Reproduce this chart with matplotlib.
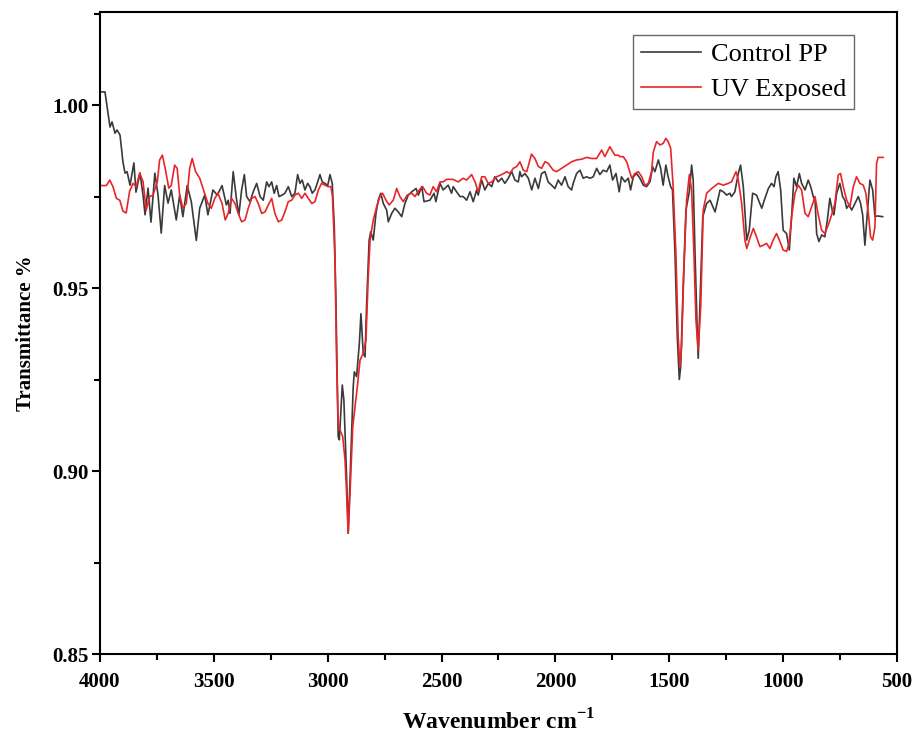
import numpy as np
import matplotlib.pyplot as plt
from matplotlib.ticker import MultipleLocator

# FTIR spectra (wavenumber in cm-1, transmittance)
control_wn = [3998, 3978, 3956, 3947, 3934, 3925, 3912, 3899, 3890, 3881, 3868, 3851, 3842,
              3824, 3811, 3802, 3789, 3776, 3759, 3745, 3731, 3716, 3701, 3687, 3665, 3650,
              3636, 3617, 3599, 3577, 3562, 3540, 3526, 3504, 3485, 3464, 3445, 3437, 3429,
              3415, 3400, 3390, 3378, 3366, 3356, 3341, 3327, 3312, 3297, 3283, 3268, 3258,
              3246, 3235, 3224, 3214, 3200, 3188, 3173, 3158, 3144, 3132, 3122, 3112, 3100,
              3088, 3078, 3068, 3056, 3044, 3034, 3024, 3012, 3000, 2990, 2980, 2971, 2964,
              2954, 2949, 2936, 2929, 2917, 2910, 2899, 2888, 2883, 2873, 2861, 2854, 2844,
              2836, 2829, 2818, 2811, 2800, 2788, 2778, 2767, 2756, 2741, 2734, 2719, 2705,
              2690, 2675, 2661, 2646, 2631, 2612, 2602, 2587, 2577, 2551, 2533, 2525, 2507,
              2493, 2478, 2471, 2456, 2449, 2434, 2419, 2405, 2390, 2375, 2361, 2346, 2339,
              2324, 2310, 2295, 2280, 2266, 2251, 2236, 2222, 2207, 2192, 2178, 2163, 2156,
              2149, 2134, 2119, 2104, 2090, 2075, 2061, 2046, 2032, 2017, 2002, 1988, 1973,
              1958, 1944, 1929, 1922, 1907, 1892, 1878, 1863, 1848, 1834, 1819, 1805, 1790,
              1775, 1761, 1749, 1734, 1720, 1710, 1695, 1680, 1670, 1658, 1644, 1629, 1614,
              1600, 1585, 1573, 1563, 1548, 1538, 1527, 1515, 1505, 1494, 1486, 1475, 1465,
              1456, 1450, 1439, 1427, 1412, 1402, 1395, 1387, 1377, 1373, 1362, 1353, 1336,
              1321, 1299, 1277, 1263, 1248, 1234, 1227, 1212, 1197, 1187, 1175, 1160, 1149,
              1134, 1117, 1102, 1094, 1080, 1065, 1051, 1040, 1032, 1022, 1011, 1000, 985,
              973, 963, 953, 941, 929, 919, 904, 890, 879, 868, 860, 853, 843, 831, 817, 806,
              795, 783, 777, 765, 751, 739, 729, 721, 711, 699, 685, 670, 660, 651, 641, 631,
              619, 607, 597, 587, 563]
control_t = [1.0036, 1.0036, 0.9940, 0.9954, 0.9923, 0.9932, 0.9918, 0.9844, 0.9814, 0.9818,
             0.9781, 0.9842, 0.9762, 0.9814, 0.9754, 0.9700, 0.9773, 0.9680, 0.9814, 0.9754,
             0.9650, 0.9780, 0.9732, 0.9768, 0.9686, 0.9754, 0.9695, 0.9780, 0.9736, 0.9630,
             0.9718, 0.9754, 0.9700, 0.9768, 0.9754, 0.9780, 0.9727, 0.9740, 0.9704, 0.9818,
             0.9740, 0.9700, 0.9768, 0.9810, 0.9750, 0.9736, 0.9763, 0.9786, 0.9750, 0.9740,
             0.9790, 0.9777, 0.9790, 0.9759, 0.9780, 0.9750, 0.9754, 0.9759, 0.9777, 0.9750,
             0.9759, 0.9810, 0.9786, 0.9795, 0.9768, 0.9786, 0.9777, 0.9759, 0.9768, 0.9790,
             0.9810, 0.9790, 0.9786, 0.9780, 0.9810, 0.9786, 0.9667, 0.9467, 0.9094, 0.9085,
             0.9235, 0.9194, 0.8984, 0.8830, 0.9030, 0.9230, 0.9271, 0.9258, 0.9349, 0.9430,
             0.9322, 0.9312, 0.9458, 0.9631, 0.9654, 0.9631, 0.9704, 0.9740, 0.9759, 0.9731,
             0.9713, 0.9681, 0.9704, 0.9718, 0.9708, 0.9695, 0.9731, 0.9754, 0.9763, 0.9772,
             0.9754, 0.9777, 0.9736, 0.9740, 0.9759, 0.9736, 0.9786, 0.9768, 0.9777, 0.9781,
             0.9759, 0.9777, 0.9763, 0.9750, 0.9750, 0.9740, 0.9763, 0.9736, 0.9768, 0.9754,
             0.9795, 0.9768, 0.9786, 0.9777, 0.9804, 0.9790, 0.9800, 0.9786, 0.9800, 0.9818,
             0.9795, 0.9790, 0.9818, 0.9804, 0.9813, 0.9800, 0.9768, 0.9800, 0.9772, 0.9813,
             0.9818, 0.9790, 0.9781, 0.9772, 0.9795, 0.9781, 0.9804, 0.9777, 0.9768, 0.9786,
             0.9813, 0.9822, 0.9800, 0.9804, 0.9800, 0.9804, 0.9827, 0.9810, 0.9822, 0.9818,
             0.9836, 0.9795, 0.9813, 0.9763, 0.9804, 0.9790, 0.9800, 0.9768, 0.9804, 0.9813,
             0.9800, 0.9781, 0.9777, 0.9790, 0.9831, 0.9818, 0.9850, 0.9827, 0.9781, 0.9836,
             0.9804, 0.9777, 0.9768, 0.9595, 0.9367, 0.9250, 0.9285, 0.9504, 0.9713, 0.9763,
             0.9836, 0.9795, 0.9595, 0.9376, 0.9308, 0.9522, 0.9695, 0.9731, 0.9740, 0.9708,
             0.9768, 0.9763, 0.9754, 0.9759, 0.9750, 0.9763, 0.9813, 0.9836, 0.9777, 0.9631,
             0.9658, 0.9759, 0.9754, 0.9731, 0.9718, 0.9745, 0.9772, 0.9786, 0.9777, 0.9804,
             0.9818, 0.9768, 0.9658, 0.9649, 0.9604, 0.9695, 0.9800, 0.9777, 0.9813, 0.9786,
             0.9768, 0.9795, 0.9777, 0.9750, 0.9740, 0.9649, 0.9627, 0.9645, 0.9640, 0.9686,
             0.9745, 0.9708, 0.9700, 0.9759, 0.9786, 0.9750, 0.9740, 0.9718, 0.9727, 0.9713,
             0.9731, 0.9750, 0.9731, 0.9700, 0.9617, 0.9700, 0.9795, 0.9768, 0.9695, 0.9697,
             0.9695]

uv_wn = [4000, 3972, 3957, 3943, 3928, 3913, 3899, 3885, 3870, 3855, 3841, 3826, 3811, 3797,
         3782, 3767, 3748, 3738, 3726, 3712, 3698, 3687, 3672, 3661, 3650, 3636, 3621, 3606,
         3595, 3580, 3562, 3543, 3526, 3511, 3496, 3482, 3464, 3450, 3437, 3422, 3407, 3393,
         3378, 3363, 3349, 3334, 3319, 3305, 3290, 3275, 3261, 3246, 3232, 3217, 3202, 3188,
         3173, 3158, 3144, 3129, 3114, 3100, 3085, 3070, 3056, 3041, 3027, 3012, 2998, 2986,
         2979, 2968, 2961, 2954, 2946, 2934, 2924, 2917, 2910, 2902, 2890, 2880, 2870, 2858,
         2844, 2832, 2822, 2814, 2800, 2785, 2771, 2759, 2744, 2730, 2712, 2697, 2683, 2668,
         2651, 2631, 2617, 2598, 2583, 2566, 2551, 2537, 2522, 2507, 2493, 2478, 2450, 2427,
         2405, 2390, 2368, 2353, 2339, 2324, 2310, 2295, 2280, 2258, 2236, 2214, 2200, 2185,
         2170, 2156, 2141, 2126, 2112, 2105, 2090, 2075, 2061, 2046, 2032, 2010, 1995, 1973,
         1951, 1929, 1907, 1885, 1863, 1841, 1819, 1797, 1783, 1761, 1739, 1724, 1717, 1702,
         1687, 1665, 1651, 1636, 1621, 1607, 1592, 1578, 1570, 1556, 1541, 1527, 1515, 1505,
         1494, 1483, 1471, 1461, 1453, 1446, 1436, 1424, 1412, 1402, 1392, 1383, 1373, 1362,
         1351, 1336, 1314, 1285, 1263, 1241, 1227, 1207, 1197, 1182, 1168, 1160, 1146, 1131,
         1117, 1102, 1087, 1073, 1058, 1044, 1029, 1014, 1000, 985, 974, 963, 948, 934, 919,
         904, 890, 875, 860, 846, 831, 817, 802, 787, 773, 758, 748, 736, 721, 707, 692, 678,
         663, 648, 637, 626, 616, 607, 597, 590, 583, 561]
uv_t = [0.9780, 0.9780, 0.9795, 0.9777, 0.9745, 0.9740, 0.9710, 0.9705, 0.9764, 0.9786,
        0.9777, 0.9814, 0.9791, 0.9713, 0.9750, 0.9754, 0.9791, 0.9850, 0.9863, 0.9822,
        0.9773, 0.9780, 0.9836, 0.9827, 0.9754, 0.9718, 0.9731, 0.9827, 0.9854, 0.9818,
        0.9800, 0.9764, 0.9731, 0.9718, 0.9745, 0.9759, 0.9731, 0.9686, 0.9704, 0.9745,
        0.9731, 0.9704, 0.9681, 0.9686, 0.9718, 0.9745, 0.9750, 0.9731, 0.9704, 0.9708,
        0.9727, 0.9745, 0.9704, 0.9681, 0.9686, 0.9708, 0.9736, 0.9740, 0.9754, 0.9759,
        0.9745, 0.9759, 0.9745, 0.9731, 0.9736, 0.9768, 0.9786, 0.9781, 0.9777, 0.9777,
        0.9750, 0.9577, 0.9303, 0.9130, 0.9112, 0.9094, 0.9030, 0.8939, 0.8830, 0.8939,
        0.9121, 0.9176, 0.9230, 0.9303, 0.9322, 0.9358, 0.9530, 0.9631, 0.9686, 0.9722,
        0.9750, 0.9759, 0.9740, 0.9727, 0.9740, 0.9772, 0.9750, 0.9736, 0.9754, 0.9759,
        0.9750, 0.9768, 0.9777, 0.9759, 0.9754, 0.9777, 0.9763, 0.9790, 0.9790, 0.9797,
        0.9797, 0.9790, 0.9800, 0.9795, 0.9810, 0.9790, 0.9763, 0.9804, 0.9804, 0.9786,
        0.9790, 0.9804, 0.9810, 0.9818, 0.9813, 0.9827, 0.9832, 0.9845, 0.9822, 0.9818,
        0.9850, 0.9866, 0.9854, 0.9832, 0.9827, 0.9845, 0.9841, 0.9822, 0.9818, 0.9827,
        0.9836, 0.9845, 0.9850, 0.9852, 0.9857, 0.9854, 0.9854, 0.9877, 0.9859, 0.9886,
        0.9863, 0.9863, 0.9859, 0.9859, 0.9845, 0.9800, 0.9813, 0.9818, 0.9804, 0.9781,
        0.9786, 0.9818, 0.9872, 0.9900, 0.9891, 0.9895, 0.9909, 0.9900, 0.9882, 0.9777,
        0.9595, 0.9367, 0.9285, 0.9340, 0.9549, 0.9740, 0.9810, 0.9768, 0.9595, 0.9413,
        0.9330, 0.9449, 0.9713, 0.9759, 0.9772, 0.9786, 0.9781, 0.9786, 0.9790, 0.9818,
        0.9795, 0.9731, 0.9631, 0.9608, 0.9636, 0.9663, 0.9640, 0.9613, 0.9617, 0.9622,
        0.9608, 0.9631, 0.9649, 0.9627, 0.9604, 0.9600, 0.9622, 0.9695, 0.9759, 0.9781,
        0.9768, 0.9704, 0.9695, 0.9722, 0.9750, 0.9700, 0.9658, 0.9649, 0.9672, 0.9700,
        0.9731, 0.9809, 0.9813, 0.9777, 0.9740, 0.9722, 0.9777, 0.9804, 0.9786, 0.9781,
        0.9759, 0.9704, 0.9640, 0.9631, 0.9667, 0.9840, 0.9857, 0.9857]

plt.rcParams['font.family'] = ['Liberation Serif', 'DejaVu Serif']

fig = plt.figure(figsize=(9.13, 7.37), dpi=100)
ax = fig.add_axes([0.1095, 0.1126, 0.873, 0.871])

ax.plot(control_wn, control_t, color='#3a3a3a', lw=1.2, label='Control PP')
ax.plot(uv_wn, uv_t, color='#e8262a', lw=1.2, label='UV Exposed')

ax.set_xlim(4000, 500)
ax.set_ylim(0.85, 1.0254)
ax.xaxis.set_major_locator(MultipleLocator(500))
ax.xaxis.set_minor_locator(MultipleLocator(250))
ax.yaxis.set_major_locator(MultipleLocator(0.05))
ax.yaxis.set_minor_locator(MultipleLocator(0.025))
ax.yaxis.set_major_formatter(plt.FormatStrFormatter('%.2f'))

ax.tick_params(which='major', direction='out', length=6, width=1.5, labelsize=15)
ax.tick_params(axis='x', which='major', pad=7)
ax.tick_params(axis='y', which='major', pad=2)
ax.tick_params(which='minor', direction='out', length=4, width=1.5)
for lab in ax.get_xticklabels() + ax.get_yticklabels():
    lab.set_fontweight('bold')
for sp in ax.spines.values():
    sp.set_linewidth(1.5)

ax.set_xlabel('Wavenumber cm$^{\\mathregular{-1}}$', fontsize=17, fontweight='bold', labelpad=12)
ax.set_ylabel('Transmittance %', fontsize=15, fontweight='bold', labelpad=12)

leg = ax.legend(loc='upper right', bbox_to_anchor=(0.946, 0.965), fontsize=19, frameon=True,
                fancybox=False, edgecolor='#444444', handlelength=2.3, handletextpad=0.35,
                borderpad=0.3, labelspacing=0.45, borderaxespad=0)
leg.get_frame().set_linewidth(1.0)

fig.savefig('out.png', dpi=100)
